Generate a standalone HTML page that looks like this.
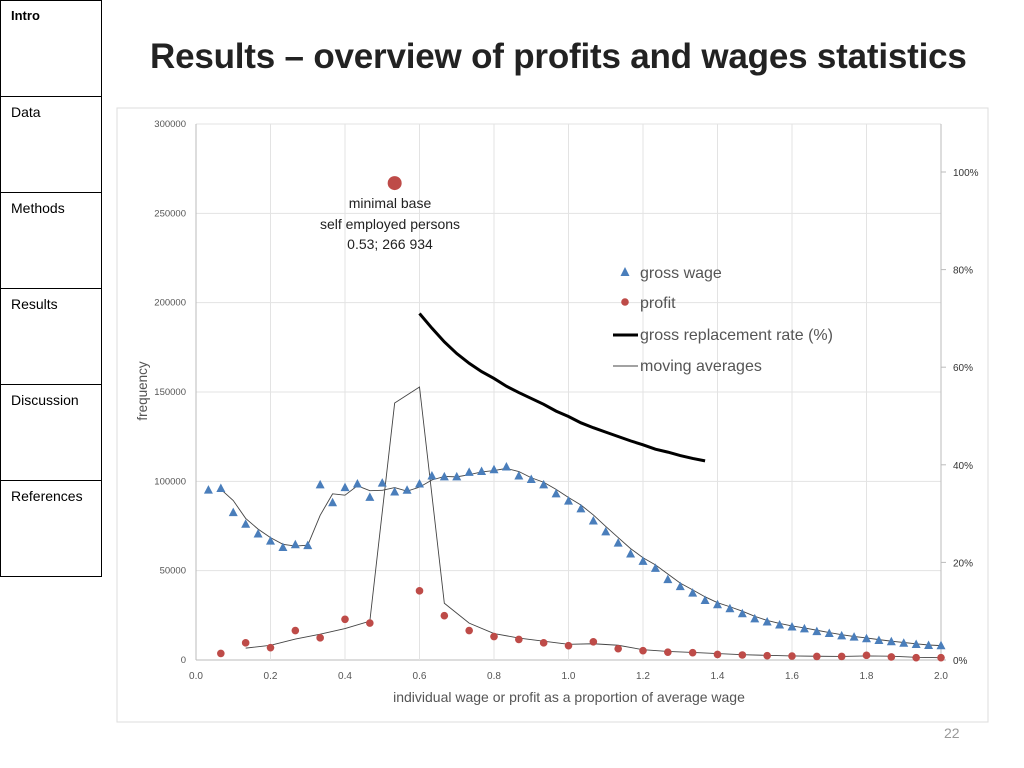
<!DOCTYPE html>
<html><head><meta charset="utf-8"><style>
body{margin:0;width:1024px;height:768px;background:#fff;font-family:"Liberation Sans",sans-serif;overflow:hidden;position:relative}
.nav{position:absolute;left:0;width:100px;height:95px;border:1px solid #000;border-bottom:none;font-size:14px}
.nav span{position:absolute;left:10px;top:7px}
</style></head><body>
<div class="nav" style="top:0"><span style="font-weight:bold;font-size:13px">Intro</span></div>
<div class="nav" style="top:96px"><span>Data</span></div>
<div class="nav" style="top:192px"><span>Methods</span></div>
<div class="nav" style="top:288px"><span>Results</span></div>
<div class="nav" style="top:384px"><span>Discussion</span></div>
<div class="nav" style="top:480px;border-bottom:1px solid #000"><span>References</span></div>
<div style="position:absolute;left:150px;top:37px;font-size:35px;font-weight:bold;color:#222;letter-spacing:-0.2px">Results – overview of profits and wages statistics</div>
<div style="position:absolute;left:944px;top:725px;font-size:14px;color:#999">22</div>
<svg id="chart" width="1024" height="768" style="position:absolute;left:0;top:0">
<rect x="117" y="108" width="871" height="614" fill="none" stroke="#ddd"/>
<g id="grid"></g><g id="marks"></g><g id="labels"></g>
</svg>
<script>
const wageX=[];for(let i=1;i<=60;i++)wageX.push(i/30);
const wageValues=[95100,96000,82500,76000,70500,66500,63000,64500,64000,98000,88000,96500,98500,91000,99000,94000,95000,98500,103000,102500,102500,105000,105500,106500,108000,103000,101000,98000,93000,88900,84600,77800,71700,65400,59300,55200,51300,45000,41100,37400,33300,30900,28700,25900,23000,21300,19600,18500,17400,15900,14800,13500,12800,11900,10900,10200,9400,8700,8100,8000];
const profitX=[];for(let i=1;i<=30;i++)profitX.push(i/15);
const profitValues=[3700,9600,6900,16500,12400,22800,20700,266934,38700,24800,16500,13100,11500,9600,8000,10200,6300,5200,4400,4100,3100,2800,2400,2200,2000,2000,2600,1700,1300,1300];
const rateX=[];for(let i=0;i<24;i++)rateX.push(0.6+i/30);
const rateValues=[71.0,68.0,65.2,62.8,60.8,59.1,57.7,56.1,54.8,53.6,52.4,51.0,49.9,48.6,47.6,46.7,45.8,44.9,44.1,43.2,42.6,41.9,41.3,40.8];
const yTicks=[0,50000,100000,150000,200000,250000,300000];
const xTicks=[0,0.2,0.4,0.6,0.8,1.0,1.2,1.4,1.6,1.8,2.0];
const rTicks=[0,20,40,60,80,100];
const X=v=>196+v*372.5, Y=v=>660-v*536/300000, R=v=>660-v*4.88;
const NS='http://www.w3.org/2000/svg';
function mk(t,a,p){const e=document.createElementNS(NS,t);for(const k in a)e.setAttribute(k,a[k]);p.appendChild(e);return e;}
const grid=document.getElementById('grid'),marks=document.getElementById('marks'),labels=document.getElementById('labels');
yTicks.forEach(t=>{const l=mk('line',{x1:196,x2:941,y1:Y(t),y2:Y(t),stroke:t?'#e3e3e3':'#bbb'},grid);


const s=mk('text',{x:186,y:Y(t)+3,'text-anchor':'end','font-size':9.5,fill:'#555'},labels);s.textContent=t;

});
xTicks.forEach(t=>{const l=mk('line',{x1:X(t),x2:X(t),y1:124,y2:660,stroke:t?'#e3e3e3':'#bbb'},grid);


const s=mk('text',{x:X(t),y:679,'text-anchor':'middle','font-size':10,fill:'#555'},labels);s.textContent=t.toFixed(1);

});
mk('line',{x1:941,x2:941,y1:124,y2:660,stroke:'#bbb'},grid);
rTicks.forEach(t=>{mk('line',{x1:941,x2:946,y1:R(t),y2:R(t),stroke:'#bbb'},grid);
const s=mk('text',{x:953,y:R(t)+4,'font-size':10,fill:'#333'},labels);s.textContent=t+'%';

});
function ma(xs,vs){const p=[];for(let i=1;i<vs.length;i++)p.push(X(xs[i])+','+Y((vs[i]+vs[i-1])/2));return p.join(' ');}
let e=mk('polyline',{points:ma(wageX,wageValues),fill:'none',stroke:'#444','stroke-width':0.9},marks);


e=mk('polyline',{points:ma(profitX,profitValues),fill:'none',stroke:'#444','stroke-width':0.9},marks);


wageX.forEach((x,i)=>{const cx=X(x),cy=Y(wageValues[i]);
const t=mk('polygon',{points:`${cx},${cy-5} ${cx-4.5},${cy+3.5} ${cx+4.5},${cy+3.5}`,fill:'#4a7ebb'},marks);

});
profitX.forEach((x,i)=>{const big=profitValues[i]>200000;
const c=mk('circle',{cx:X(x),cy:Y(profitValues[i]),r:big?7:3.8,fill:'#be4b48'},marks);

});
e=mk('polyline',{points:rateX.map((x,i)=>X(x)+','+R(rateValues[i])).join(' '),fill:'none',stroke:'#000','stroke-width':3},marks);


</script>
<svg width="1024" height="768" style="position:absolute;left:0;top:0">
<text transform="translate(147,391) rotate(-90)" text-anchor="middle" font-size="13.5" fill="#555">frequency</text>
<text x="569" y="702" text-anchor="middle" font-size="14" fill="#555">individual wage or profit as a proportion of average wage</text>
<g font-size="14" fill="#222" text-anchor="middle">
<text x="390" y="208">minimal base</text><text x="390" y="229">self employed persons</text><text x="390" y="249">0.53; 266 934</text></g>
<g font-size="16" fill="#555">
<polygon points="625,267 620.5,276 629.5,276" fill="#4a7ebb"/><text x="640" y="278">gross wage</text>
<circle cx="625" cy="302" r="3.8" fill="#be4b48"/><text x="640" y="308">profit</text>
<line x1="613" x2="638" y1="335" y2="335" stroke="#000" stroke-width="3"/><text x="640" y="340">gross replacement rate (%)</text>
<line x1="613" x2="638" y1="366" y2="366" stroke="#444" stroke-width="0.9"/><text x="640" y="371">moving averages</text>
</g></svg>
</body></html>
